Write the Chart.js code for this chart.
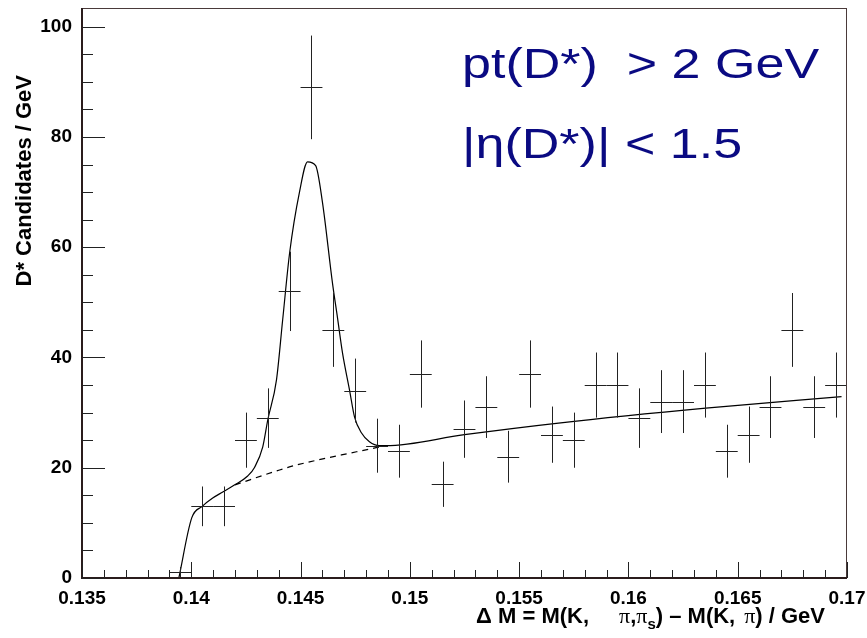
<!DOCTYPE html>
<html><head><meta charset="utf-8">
<script src="https://cdn.jsdelivr.net/npm/chart.js@4"></script>
<style>html,body{margin:0;padding:0;background:#fff}canvas{display:block}</style>
</head><body>
<canvas id="c" width="867" height="638"></canvas>
<script>
// ---- data ----
const binCenters = [0.1395,0.1405,0.1415,0.1425,0.1435,0.1445,0.1455,0.1465,0.1475,0.1485,0.1495,0.1505,0.1515,0.1525,0.1535,0.1545,0.1555,0.1565,0.1575,0.1585,0.1595,0.1605,0.1615,0.1625,0.1635,0.1645,0.1655,0.1665,0.1675,0.1685,0.1695];
const counts     = [1,13,13,25,29,52,89,45,34,24,23,37,17,27,31,22,37,26,25,35,35,29,32,32,35,23,26,31,45,31,35];
const errors     = [1,3.6,3.6,5,5.4,7.2,9.4,6.7,5.8,4.9,4.8,6.1,4.1,5.2,5.6,4.7,6.1,5.1,5,5.9,5.9,5.4,5.7,5.7,5.9,4.8,5.1,5.6,6.7,5.6,5.9];
const binHalfWidth = 0.0005;

const fitX = [0.13943,0.14002,0.1405,0.14098,0.14144,0.14199,0.14258,0.1429,0.14327,0.1435,0.1439,0.14418,0.1445,0.14495,0.14532,0.14569,0.1460,0.14646,0.14669,0.14692,0.14724,0.14747,0.14779,0.14815,0.14861,0.1489,0.1525,0.1568,0.16354,0.16975];
const fitY = [0,10.9,13,14.5,15.6,16.9,18.5,20.1,23.8,28.7,36,46.8,59,70,75.5,74.8,68.2,53.5,47.2,40.8,34.1,29.2,26.3,24.7,24,24,26,28.1,30.8,32.9];

const bgX = [0.1420,0.14404,0.14482,0.14756,0.1489];
const bgY = [16.9,19.6,20.5,22.9,24];

const xTickValues = [0.135,0.14,0.145,0.15,0.155,0.16,0.165,0.17];
const xTickLabels = ['0.135','0.14','0.145','0.15','0.155','0.16','0.165','0.17'];
const yTickValues = [0,20,40,60,80,100];
const yTickLabels = ['0','20','40','60','80','100'];

const cutLines = ['pt(D*)  > 2 GeV','|\u03b7(D*)| < 1.5'];
const yTitle = 'D* Candidates / GeV';

// ---- drawing ----
const SANS = '"Liberation Sans", Arial, Helvetica, sans-serif';
const SERIF = '"Liberation Serif", "Times New Roman", serif';
const AXIS_COL = '#2a1c1c';

const decor = {
  id: 'decor',
  afterDatasetsDraw(chart) {
    const ctx = chart.ctx, xs = chart.scales.x, ys = chart.scales.y, a = chart.chartArea;
    ctx.save();
    // error bars
    ctx.strokeStyle = '#222';
    ctx.lineWidth = 1;
    ctx.beginPath();
    ctx.rect(a.left, a.top, a.right - a.left, a.bottom - a.top);
    ctx.clip();
    ctx.beginPath();
    for (let i = 0; i < binCenters.length; i++) {
      const xc = Math.round(xs.getPixelForValue(binCenters[i])) + 0.5;
      const x0 = xs.getPixelForValue(binCenters[i] - binHalfWidth);
      const x1 = xs.getPixelForValue(binCenters[i] + binHalfWidth);
      const yc = Math.round(ys.getPixelForValue(counts[i])) + 0.5;
      const y0 = ys.getPixelForValue(counts[i] - errors[i]);
      const y1 = ys.getPixelForValue(counts[i] + errors[i]);
      ctx.moveTo(x0, yc); ctx.lineTo(x1, yc);
      ctx.moveTo(xc, y0); ctx.lineTo(xc, y1);
    }
    ctx.stroke();
    ctx.restore();

    ctx.save();
    // frame
    ctx.strokeStyle = '#4a3a3a';
    ctx.lineWidth = 1;
    ctx.strokeRect(a.left + 0.5, a.top + 0.5, a.right - a.left - 1, a.bottom - a.top);
    ctx.strokeStyle = AXIS_COL;
    ctx.lineWidth = 2;
    ctx.beginPath();
    ctx.moveTo(a.left, a.top); ctx.lineTo(a.left, a.bottom);
    ctx.lineTo(a.right, a.bottom);
    ctx.stroke();
    // ticks
    ctx.lineWidth = 1;
    ctx.strokeStyle = '#222';
    ctx.beginPath();
    for (let v = 0; v <= 100.001; v += 5) {
      const y = Math.round(ys.getPixelForValue(v)) + 0.5;
      const major = Math.abs(v % 20) < 1e-6;
      ctx.moveTo(a.left, y); ctx.lineTo(a.left + (major ? 23 : 11), y);
    }
    for (let k = 0; k <= 35; k++) {
      const v = 0.135 + k * 0.001;
      const x = Math.round(xs.getPixelForValue(v)) + 0.5;
      const major = k % 5 === 0;
      ctx.moveTo(x, a.bottom); ctx.lineTo(x, a.bottom - (major ? 16 : 8));
    }
    ctx.stroke();

    // y title
    ctx.save();
    ctx.translate(31, 75);
    ctx.rotate(-Math.PI / 2);
    ctx.fillStyle = '#000';
    ctx.font = 'bold 22px ' + SANS;
    ctx.textAlign = 'right';
    ctx.textBaseline = 'alphabetic';
    ctx.fillText(yTitle, 0, 0);
    ctx.restore();

    // x title
    const bold = 'bold 22px ' + SANS, serif = '22px ' + SERIF, sub = 'bold 15px ' + SANS;
    const parts = [
      {t: '\u0394 M = M(K,', f: bold}, {gap: 30},
      {t: '\u03c0', f: serif}, {t: ',', f: bold}, {t: '\u03c0', f: serif},
      {t: 's', f: sub, dy: 6},
      {t: ') \u2013 M(K,', f: bold}, {gap: 9},
      {t: '\u03c0', f: serif}, {t: ') / GeV', f: bold}
    ];
    let total = 0;
    for (const p of parts) {
      if (p.gap) { total += p.gap; continue; }
      ctx.font = p.f; p.w = ctx.measureText(p.t).width; total += p.w;
    }
    let x = 825 - total;
    ctx.fillStyle = '#000';
    ctx.textAlign = 'left';
    ctx.textBaseline = 'alphabetic';
    for (const p of parts) {
      if (p.gap) { x += p.gap; continue; }
      ctx.font = p.f;
      ctx.fillText(p.t, x, 623 + (p.dy || 0));
      x += p.w;
    }

    // cut annotation (reference text is horizontally wider)
    ctx.fillStyle = '#0a0a82';
    ctx.font = '43px ' + SANS;
    ctx.save();
    ctx.translate(462, 0);
    ctx.scale(1.21, 1);
    ctx.fillText(cutLines[0], 0, 78);
    ctx.fillText(cutLines[1], 0, 158);
    ctx.restore();
    ctx.restore();
  }
};

new Chart(document.getElementById('c'), {
  data: {
    datasets: [
      {
        type: 'line',
        data: fitX.map((x, i) => ({x, y: fitY[i]})),
        borderColor: '#000',
        borderWidth: 1.2,
        pointRadius: 0,
        fill: false,
        cubicInterpolationMode: 'monotone'
      },
      {
        type: 'line',
        data: bgX.map((x, i) => ({x, y: bgY[i]})),
        borderColor: '#000',
        borderWidth: 1.2,
        borderDash: [6, 5],
        pointRadius: 0,
        fill: false,
        cubicInterpolationMode: 'monotone'
      },
      {
        type: 'scatter',
        data: binCenters.map((x, i) => ({x, y: counts[i]})),
        pointRadius: 0,
        showLine: false
      }
    ]
  },
  options: {
    responsive: false,
    animation: false,
    devicePixelRatio: 1,
    layout: {padding: {left: 0, top: 8, right: 20, bottom: 0}},
    plugins: {legend: {display: false}, tooltip: {enabled: false}},
    scales: {
      x: {
        type: 'linear', min: 0.135, max: 0.17,
        grid: {display: false, drawTicks: false},
        border: {display: false},
        afterFit(s) { s.height = 60; s.paddingLeft = 0; s.paddingRight = 0; },
        afterBuildTicks(s) { s.ticks = xTickValues.map(v => ({value: v})); },
        ticks: {
          padding: 9, maxRotation: 0, autoSkip: false,
          color: '#000', font: {family: SANS, size: 19, weight: 'bold'},
          callback: (v, i) => xTickLabels[i]
        }
      },
      y: {
        type: 'linear', min: 0, max: 103.4,
        grid: {display: false, drawTicks: false},
        border: {display: false},
        afterFit(s) { s.width = 82; s.paddingTop = 0; s.paddingBottom = 0; },
        afterBuildTicks(s) { s.ticks = yTickValues.map(v => ({value: v})); },
        ticks: {
          padding: 10, autoSkip: false,
          color: '#000', font: {family: SANS, size: 19, weight: 'bold'},
          callback: (v, i) => yTickLabels[i]
        }
      }
    }
  },
  plugins: [decor]
});
</script>
</body></html>
